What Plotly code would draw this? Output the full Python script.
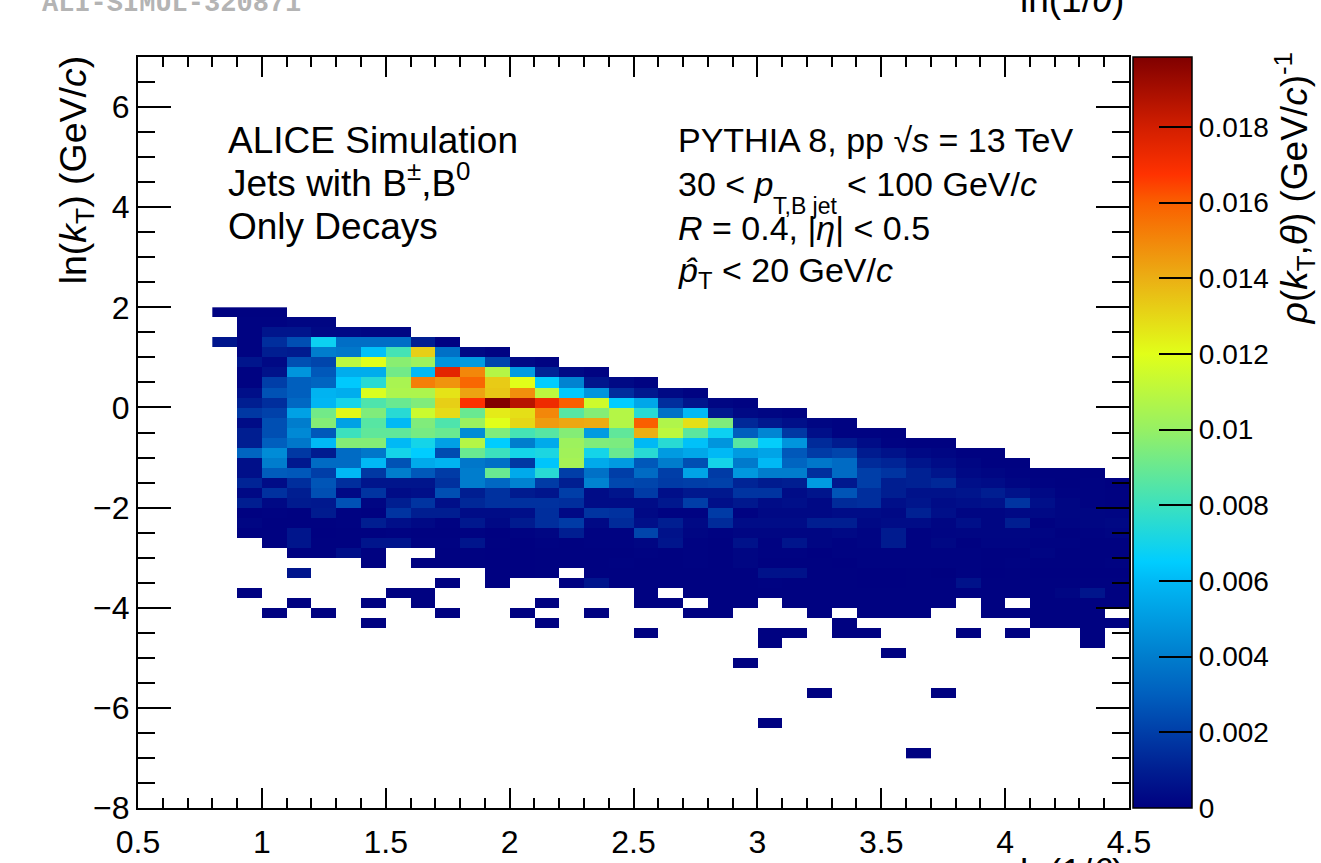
import plotly.graph_objects as go

_ = None
# rho(kT, theta) in units of 0.001 (GeV/c)^-1. Columns start at ln(1/theta)=0.8..0.9, width 0.1
y_p19 = [.05,.05,.05]
y_p17 = [_,.1,.1,.2,.2]
y_p15 = [_,.1,.7,.7,.3,.3,.2,.2]
y_p13 = [.7,.1,1.5,2.5,6.8,3.5,3.5,3.5,1.0,.1]
y_p11 = [_,.1,1.0,.9,4,3.8,6.2,8.2,13.2,3.6,.3,.1]
y_p09 = [_,.7,.3,2.5,2.2,11,12,9.7,10.2,4.8,5,2.2,.3,.1]
y_p07 = [_,.1,.6,4.8,2.8,5.6,5.6,9.2,6,17.5,15,10.8,5,1.2,.3,.1]
y_p05 = [_,.1,2,3,3.2,6.4,7.5,10.5,15.2,14.7,15.8,13.3,12,6.5,4.2,.7,.3,.1]
y_p03 = [_,.5,2.6,3,5.8,5.6,11.8,10.6,10.6,12.7,14.3,13.4,14.8,11,6.4,4.8,1.5,.8,.3,.1]
y_p01 = [_,1,1.5,3.3,5.9,7,8.4,9,9.5,13.2,16.8,19.8,18.6,17.2,16,11.5,6.5,5.4,1.5,.7,.2,.1]
y_m01 = [_,1.8,2.1,5.2,9.2,12.2,9.5,7.5,11.4,12.9,9,12.5,12.8,15,8.6,9.6,10.8,7.5,3.6,6,.8,.3,.2,.1]
y_m03 = [_,.4,2.5,4,9.6,5.2,8.6,6,9.5,8.4,10.1,12,13,14.5,14.2,14.1,10.8,16,10.7,12.8,9.5,1.3,.8,.5,.2,.1]
y_m05 = [_,1,2.5,4.4,2.8,8,8.8,8.8,9.3,9,4.5,9.5,8.2,8.6,9.6,5,8.8,14,11,8.7,6.8,3,4.3,1.8,.5,.1,.1,.05]
y_m07 = [_,1,3,3.8,6,9.6,9.6,6,7,5.2,10.8,6.5,4,5.5,10.2,9.5,9.4,6,7.5,6.2,4.8,8.6,6.6,4.8,1.4,.9,.4,.1,.05,.05]
y_m09 = [_,3.2,4.5,1.8,.9,3.4,3.8,7,6.5,2.4,9,8,7,7.2,10.3,7,9,7.5,5,5.4,6,5,5.3,2.8,1.9,2.2,.9,.6,.3,.2,.05,.05]
y_m11 = [_,.5,4,.8,3.4,3.4,6,2.6,5.5,5.8,3.8,3.5,1.8,6.3,10.4,5.5,5,2.8,4,2.5,7,3.9,6,3.2,3.8,3.4,1.4,1.2,.7,.4,.2,.05,.05]
y_m13 = [_,.5,2.9,2.8,2,6,1.8,4,2.8,1.9,4,9,5.5,7.5,2,3.6,2,3.4,2,5.3,1.9,4.9,4,4,1.5,3.4,2,1.7,1.1,.7,.3,.2,.1,.05,.05,.05]
y_m15 = [_,1.2,.4,1.5,2.7,1.5,.7,.7,.7,1.6,4,3.3,4.2,1.9,1,4.2,2.3,2.2,1.9,2,2.1,1.2,.9,1,5,.8,2,1,1.1,1.3,.5,.4,.2,.1,.05,.1,.03]
y_m17 = [_,.3,1.6,1,2.5,.3,1.7,.4,.5,2.5,1,1.6,.9,.7,2,.4,.7,1.9,.5,.8,.8,1.7,1.7,.4,.7,2.7,1.5,1,.6,.6,.7,1,.6,.3,.1,.1,.05]
y_m19 = [_,1,.3,.9,.8,2.6,.2,1,1.7,.5,1.3,1.6,1.6,1.6,1.5,.4,.4,.4,.8,2,.5,.8,.4,.5,.3,1.4,1.5,.5,.7,.4,.5,.6,1.7,.5,.2,.1,.05]
y_m21 = [_,.05,.1,.05,.9,.1,.05,1.7,1,1,.4,.4,.5,1.5,.3,1.7,1.6,.3,.1,.1,1.9,.1,.3,.3,.3,.4,.4,.3,1.1,.5,.2,.2,.3,.3,.2,.2,.15]
y_m23 = [_,.2,.05,.05,.05,.1,1,.5,.3,.1,.8,.3,.9,1.5,1.9,.3,1.4,.5,1,.3,1.4,.4,.4,.4,1,1,.3,.4,.4,.2,.5,.2,1,.05,.15,.2,.25]
y_m25 = [_,.05,.05,.7,.03,.05,.05,.1,.05,.05,.1,.03,.1,.2,1,.1,.1,2.2,.6,.2,.1,.2,.2,.2,.2,.3,.15,.9,.1,.15,.2,.2,.2,.15,.05,.1,.15]
y_m27 = [_,_,.05,.7,.05,.05,.7,.7,.1,.1,.7,.05,.03,.1,.05,.1,.1,.2,.7,.1,.05,.6,.1,.7,.2,.1,.15,.9,.1,.25,.05,.15,.15,.1,.1,.05,.05]
y_m29 = [_,_,_,.05,.05,.5,.05,_,_,.05,.05,.03,.03,.05,.05,.05,.05,.1,.05,.1,.05,.2,.1,.1,.03,.1,.1,.1,.1,.1,.1,.05,.05,.15,.05,.05,.05]
y_m31 = [_,_,_,_,_,_,.05,_,.05,.05,.05,.03,.03,.05,.05,.05,.1,.05,.05,.1,.05,.2,.05,.05,.05,.03,.1,.1,.1,.1,.1,.05,.1,.05,.05,.05,.1]
y_m33 = [_,_,_,.7,_,_,_,_,_,_,_,.03,.03,.05,_,.05,.05,.05,.05,.05,.05,.05,.6,.6,.05,.05,.03,.03,.05,.02,.1,.03,.08,.03,.03,.03,.03]
y_m35 = [_,_,_,_,_,_,_,_,_,.05,_,.03,_,_,.05,.7,.05,.05,.05,.05,.05,.05,.1,.05,.05,.05,.03,.03,.05,.05,.6,.05,.05,.05,.05,.05,.05]
y_m37 = [_,.05,_,_,_,_,_,.05,.05,_,_,_,_,_,_,_,_,.05,_,.05,.05,.05,.05,.05,.05,.05,.05,.05,.05,.05,.05,.05,.05,.05,.2,.7,.05]
y_m39 = [_,_,_,.05,_,_,.05,_,.05,_,_,_,_,.05,_,_,_,.05,.05,_,.05,.05,_,.05,.05,.05,.05,.05,.05,.05,_,.05,_,.05,.05,.05,.05]
y_m41 = [_,_,.05,_,.05,_,_,_,_,.05,_,_,.05,_,_,.05,_,_,_,.05,.05,_,_,_,.05,_,.05,.05,.05,_,_,.05,.05,.05,.05,.05,_]
y_m43 = [_,_,_,_,_,_,.05,_,_,_,_,_,_,.05,_,_,_,_,_,_,_,_,_,_,_,.05,_,_,_,_,_,_,_,.05,.05,.05,.05]
y_m45 = [_,_,_,_,_,_,_,_,_,_,_,_,_,_,_,_,_,.05,_,_,_,_,.05,.05,_,.05,.05,_,_,_,.05,_,.05,_,_,.05,_]
y_m47 = [_,_,_,_,_,_,_,_,_,_,_,_,_,_,_,_,_,_,_,_,_,_,.05,_,_,_,_,_,_,_,_,_,_,_,_,.05,_]
y_m49 = [_,_,_,_,_,_,_,_,_,_,_,_,_,_,_,_,_,_,_,_,_,_,_,_,_,_,_,.05]
y_m51 = [_,_,_,_,_,_,_,_,_,_,_,_,_,_,_,_,_,_,_,_,_,.05]
y_m53 = []
y_m55 = []
y_m57 = [_,_,_,_,_,_,_,_,_,_,_,_,_,_,_,_,_,_,_,_,_,_,_,_,.05,_,_,_,_,.05]
y_m59 = []
y_m61 = []
y_m63 = [_,_,_,_,_,_,_,_,_,_,_,_,_,_,_,_,_,_,_,_,_,_,.05]
y_m65 = []
y_m67 = []
y_m69 = [_,_,_,_,_,_,_,_,_,_,_,_,_,_,_,_,_,_,_,_,_,_,_,_,_,_,_,_,.05]

rows = [y_m69,y_m67,y_m65,y_m63,y_m61,y_m59,y_m57,y_m55,y_m53,y_m51,y_m49,y_m47,y_m45,y_m43,y_m41,y_m39,
        y_m37,y_m35,y_m33,y_m31,y_m29,y_m27,y_m25,y_m23,y_m21,y_m19,y_m17,y_m15,y_m13,y_m11,y_m09,y_m07,
        y_m05,y_m03,y_m01,y_p01,y_p03,y_p05,y_p07,y_p09,y_p11,y_p13,y_p15,y_p17,y_p19]
NCOL = 37
z = [[None if v is None else v * 1e-3 for v in (r + [None] * (NCOL - len(r)))] for r in rows]

cbar_vals = [0, .002, .004, .006, .008, .01, .012, .014, .016, .018]
cbar_text = ["0", "0.002", "0.004", "0.006", "0.008", "0.01", "0.012", "0.014", "0.016", "0.018"]
ZMAX = 0.01985
stops = [(0, "rgb(0,0,128)"), (1, "rgb(0,30,145)"), (2, "rgb(0,62,168)"), (3, "rgb(0,95,190)"), (4, "rgb(0,125,205)"),
         (6, "rgb(0,185,245)"), (6.5, "rgb(0,205,255)"), (8, "rgb(60,225,190)"), (10, "rgb(150,240,100)"),
         (12, "rgb(225,255,25)"), (14, "rgb(235,175,20)"), (16, "rgb(250,95,0)"), (16.75, "rgb(255,50,0)"),
         (18, "rgb(210,30,0)"), (19.85, "rgb(128,0,0)")]
colorscale = [[s[0] / 19.85, s[1]] for s in stops]

FONT = "Liberation Sans"
X = lambda px: (px - 138) / 991
Y = lambda py: (808.5 - py) / 752

fig = go.Figure(go.Heatmap(
    z=z, x0=0.85, dx=0.1, y0=-6.9, dy=0.2, zmin=0, zmax=ZMAX, colorscale=colorscale,
    hoverongaps=False,
    colorbar=dict(x=X(1133), xanchor="left", thickness=59, thicknessmode="pixels", len=1, lenmode="fraction",
                  y=0, yanchor="bottom", xpad=0, ypad=0, outlinewidth=1.5, outlinecolor="black",
                  tickmode="array", tickvals=cbar_vals, ticktext=cbar_text, ticks="inside", ticklen=33,
                  tickwidth=2, tickcolor="black", tickfont=dict(family=FONT, size=28, color="black")),
))

axis_common = dict(showgrid=False, zeroline=False, showline=True, linecolor="black", linewidth=2,
                   mirror="ticks", ticks="inside", tickcolor="black", tickwidth=2,
                   tickfont=dict(family=FONT, size=32, color="black"))
fig.update_xaxes(range=[0.5, 4.5], tick0=0.5, dtick=0.5, ticklen=20, ticklabelstandoff=5,
                 minor=dict(dtick=0.1, tick0=0.5, ticks="inside", ticklen=10, tickwidth=2, tickcolor="black"),
                 **axis_common)
fig.update_yaxes(range=[-8, 7], tick0=0, dtick=2, ticklen=33,
                 minor=dict(dtick=0.5, tick0=0, ticks="inside", ticklen=17, tickwidth=2, tickcolor="black"),
                 **axis_common)


def label(px, py, text, size=37, anchor="left", angle=0, family=FONT, color="black"):
    fig.add_annotation(x=X(px), y=Y(py), xref="paper", yref="paper", text=text, showarrow=False,
                       xanchor=anchor, yanchor="middle", textangle=angle,
                       font=dict(family=family, size=size, color=color), borderpad=0, borderwidth=0)


label(228, 140, "ALICE Simulation")
label(228, 180, "Jets with B<sup>±</sup>,B<sup>0</sup>")
label(228, 226, "Only Decays")
label(678, 140, "PYTHIA 8, pp √<i>s</i> = 13 TeV", size=34)
label(678, 184, "30 &lt; <i>p</i>", size=34)
label(773, 206, "T,B jet", size=23)
label(847, 184, "&lt; 100 GeV/<i>c</i>", size=34)
label(678, 228, "<i>R</i> = 0.4, |<i>η</i>| &lt; 0.5", size=34)
label(678, 272, "<i>p̂</i><sub>T</sub> &lt; 20 GeV/<i>c</i>", size=34)
label(76, 170, "ln(<i>k</i><sub>T</sub>) (GeV/<i>c</i>)", size=37.5, anchor="center", angle=-90)
label(1294, 188, "<i>ρ</i>(<i>k</i><sub>T</sub>,<i>θ</i>) (GeV/<i>c</i>)<sup>-1</sup>", size=37, anchor="center", angle=-90)
label(1072, -1, "ln(1/<i>θ</i>)", size=37, anchor="center")
label(1072, 873, "ln(1/<i>θ</i>)", size=37, anchor="center")
label(42, 3, "<b>ALI-SIMUL-320871</b>", size=27, family="Liberation Mono", color="#b4b4b4")

fig.update_layout(width=1321, height=863, margin=dict(l=138, r=192, t=56.5, b=54.5, autoexpand=False),
                  paper_bgcolor="white", plot_bgcolor="white", showlegend=False)

fig.write_html("out.html", config={"displayModeBar": False},
               post_script="document.body.style.margin='0';document.body.style.overflow='hidden';")
